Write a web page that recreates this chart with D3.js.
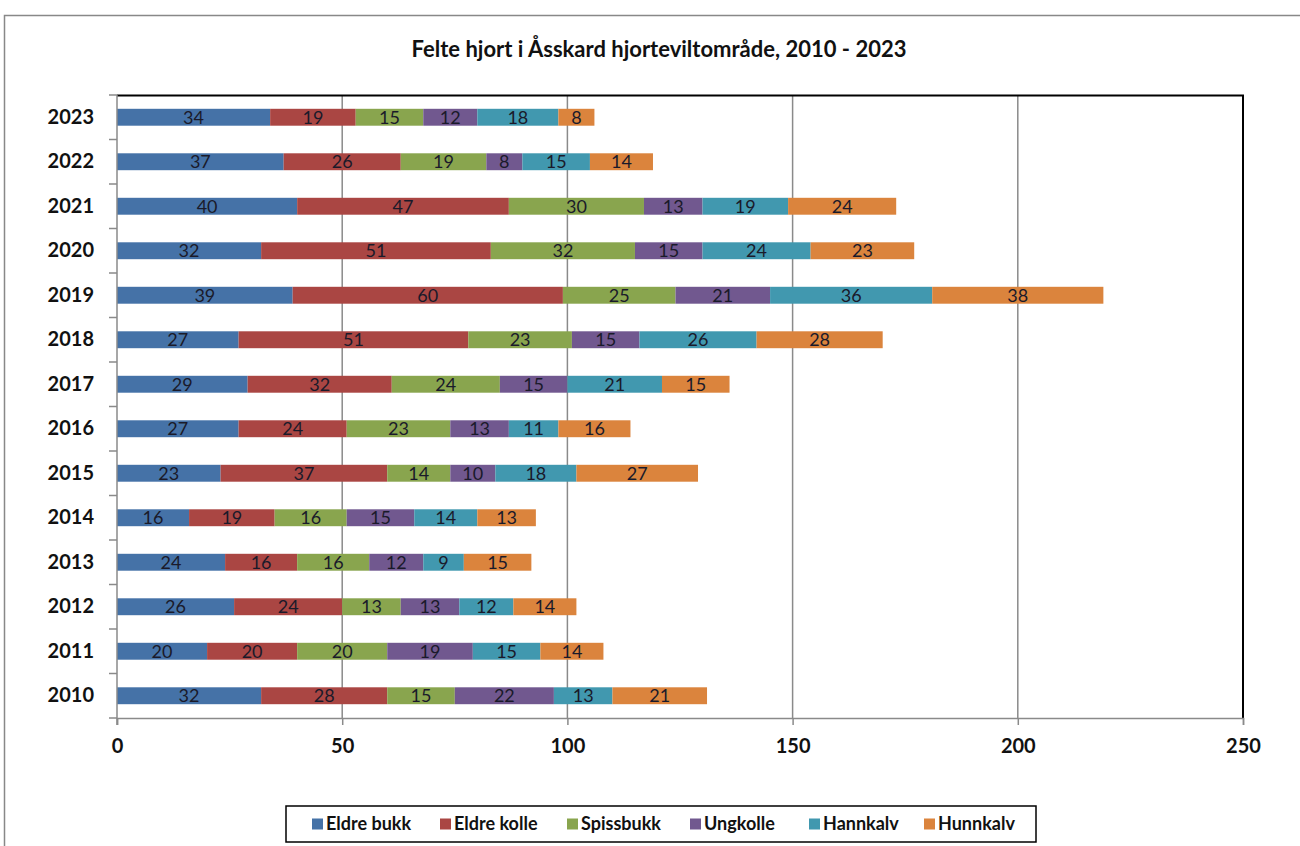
<!DOCTYPE html>
<html>
<head>
<meta charset="utf-8">
<script src="https://cdn.jsdelivr.net/npm/d3@7"></script>
<style>
  body { margin: 0; background: #fff; }
  svg { font-family: Lato, "Open Sans", sans-serif; }
</style>
</head>
<body>
<svg width="1300" height="846"></svg>
<script>
const svg = d3.select('svg')
const width = +svg.attr('width')
const height = +svg.attr('height')

// data
const years = ['2023', '2022', '2021', '2020', '2019', '2018', '2017', '2016', '2015', '2014', '2013', '2012', '2011', '2010']
const seriesNames = ['Eldre bukk', 'Eldre kolle', 'Spissbukk', 'Ungkolle', 'Hannkalv', 'Hunnkalv']
const eldreBukk  = [34, 37, 40, 32, 39, 27, 29, 27, 23, 16, 24, 26, 20, 32]
const eldreKolle = [19, 26, 47, 51, 60, 51, 32, 24, 37, 19, 16, 24, 20, 28]
const spissbukk  = [15, 19, 30, 32, 25, 23, 24, 23, 14, 16, 16, 13, 20, 15]
const ungkolle   = [12,  8, 13, 15, 21, 15, 15, 13, 10, 15, 12, 13, 19, 22]
const hannkalv   = [18, 15, 19, 24, 36, 26, 21, 11, 18, 14,  9, 12, 15, 13]
const hunnkalv   = [ 8, 14, 24, 23, 38, 28, 15, 16, 27, 13, 15, 14, 14, 21]
const xTicks = [0, 50, 100, 150, 200, 250]
const colors = ['#4572A7', '#AA4643', '#89A54E', '#71588F', '#4198AF', '#DB843D']

const seriesValues = [eldreBukk, eldreKolle, spissbukk, ungkolle, hannkalv, hunnkalv]
const rows = years.map((y, i) => {
  const r = { year: y }
  seriesNames.forEach((s, j) => { r[s] = seriesValues[j][i] })
  return r
})
const stacked = d3.stack().keys(seriesNames)(rows)

const margin = { top: 95, right: 57, bottom: 128, left: 117 }
const innerWidth = width - margin.left - margin.right
const innerHeight = height - margin.top - margin.bottom

const xScale = d3.scaleLinear().domain([0, 250]).range([0, innerWidth])
const yScale = d3.scaleBand().domain(years).range([0, innerHeight]).paddingInner(0.62).paddingOuter(0.31)
const color = d3.scaleOrdinal().domain(seriesNames).range(colors)

// outer chart frame
svg.append('rect')
  .attr('x', 4.5).attr('y', 15.5)
  .attr('width', 1310).attr('height', 850)
  .attr('fill', 'none').attr('stroke', '#888').attr('stroke-width', 1.5)

svg.append('text')
  .attr('x', 659).attr('y', 57)
  .attr('text-anchor', 'middle')
  .attr('font-size', 22).attr('font-weight', 'bold')
  .attr('fill', '#111')
  .text('Felte hjort i Åsskard hjorteviltområde, 2010 - 2023')

const g = svg.append('g')
  .attr('transform', `translate(${margin.left}, ${margin.top})`)

// vertical gridlines
g.selectAll('.grid').data(xTicks.slice(1, -1))
  .enter().append('line')
  .attr('x1', d => xScale(d)).attr('x2', d => xScale(d))
  .attr('y1', 0).attr('y2', innerHeight)
  .attr('stroke', '#8a8a8a').attr('stroke-width', 1.5)

// top and right border of plot area
g.append('path')
  .attr('d', `M0,0.5H${innerWidth}V${innerHeight}`)
  .attr('fill', 'none').attr('stroke', '#000').attr('stroke-width', 2)

// bars
const layer = g.selectAll('.layer').data(stacked)
  .enter().append('g')
  .attr('fill', d => color(d.key))

layer.selectAll('rect').data(d => d)
  .enter().append('rect')
  .attr('x', d => xScale(d[0]))
  .attr('y', d => yScale(d.data.year))
  .attr('width', d => xScale(d[1]) - xScale(d[0]))
  .attr('height', yScale.bandwidth())

layer.selectAll('text').data(d => d)
  .enter().append('text')
  .attr('x', d => (xScale(d[0]) + xScale(d[1])) / 2)
  .attr('y', d => yScale(d.data.year) + yScale.bandwidth() / 2)
  .attr('dy', '0.36em')
  .attr('text-anchor', 'middle')
  .attr('font-size', 18)
  .attr('fill', '#1a1a2a')
  .text(d => d[1] - d[0])

// y axis
const yAxis = d3.axisLeft(yScale).tickSize(0).tickPadding(23)
const yG = g.append('g').call(yAxis)
yG.select('.domain').remove()
yG.selectAll('text').attr('font-size', 20).attr('font-weight', 'bold').attr('fill', '#111')
  .style('font-family', 'Lato, sans-serif')

// y axis line and tick marks between categories
g.append('line')
  .attr('x1', 0).attr('x2', 0).attr('y1', 0).attr('y2', innerHeight + 7)
  .attr('stroke', '#8a8a8a').attr('stroke-width', 1.5)
g.selectAll('.ytick').data(d3.range(years.length + 1))
  .enter().append('line')
  .attr('x1', -8).attr('x2', 0)
  .attr('y1', i => i * innerHeight / years.length)
  .attr('y2', i => i * innerHeight / years.length)
  .attr('stroke', '#8a8a8a').attr('stroke-width', 1.5)

// x axis
const xAxis = d3.axisBottom(xScale).tickValues(xTicks).tickSize(7).tickPadding(14)
const xG = g.append('g').attr('transform', `translate(0, ${innerHeight})`).call(xAxis)
xG.select('.domain').attr('stroke', '#8a8a8a').attr('stroke-width', 1.5)
xG.selectAll('line').attr('stroke', '#8a8a8a').attr('stroke-width', 1.5)
xG.selectAll('text').attr('font-size', 20).attr('font-weight', 'bold').attr('fill', '#111')
  .style('font-family', 'Lato, sans-serif')

// legend
const legend = svg.append('g').attr('transform', 'translate(286, 806)')
legend.append('rect')
  .attr('width', 750).attr('height', 36)
  .attr('fill', '#fff').attr('stroke', '#000').attr('stroke-width', 1.5)
const legendX = [26, 154, 281, 404, 523, 638]
const item = legend.selectAll('.item').data(seriesNames)
  .enter().append('g')
  .attr('transform', (d, i) => `translate(${legendX[i]}, 18)`)
item.append('rect')
  .attr('x', 0).attr('y', -5.5).attr('width', 11).attr('height', 11)
  .attr('fill', d => color(d))
item.append('text')
  .attr('x', 14).attr('dy', '0.36em')
  .attr('font-size', 18).attr('font-weight', 'bold').attr('fill', '#111')
  .text(d => d)
</script>
</body>
</html>
